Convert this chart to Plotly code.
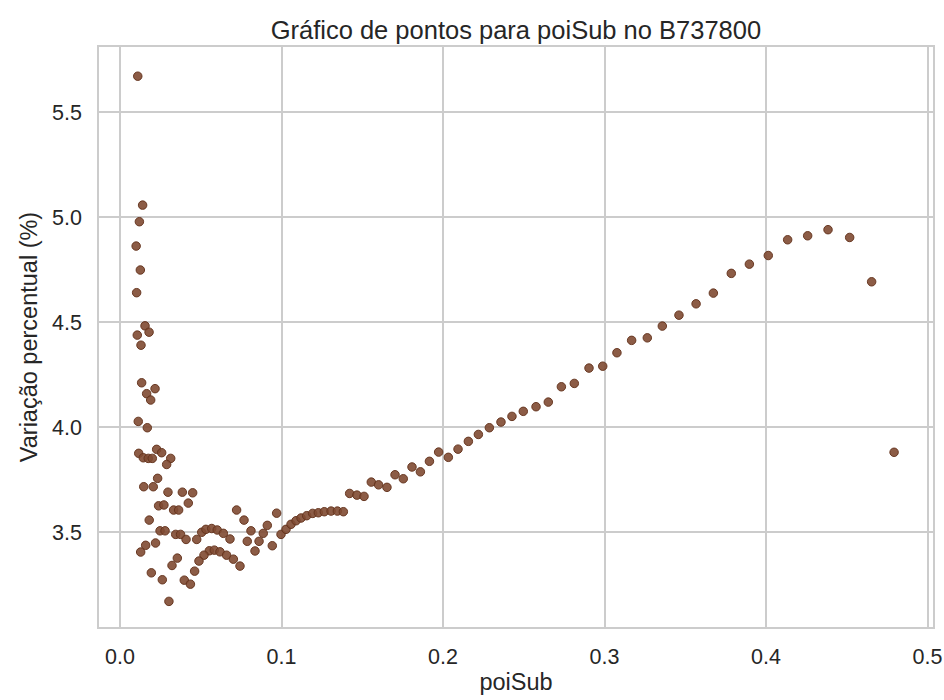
import plotly.graph_objects as go

# poiSub values and percentage variation for the B737800
poi_sub = [
    0.011, 0.014, 0.012, 0.010, 0.0126, 0.0103, 0.0155, 0.018, 0.0107, 0.013,
    0.0134, 0.0217, 0.0165, 0.019, 0.0113, 0.0169, 0.0227, 0.0258, 0.0116, 0.0144,
    0.0175, 0.020, 0.0314, 0.0289, 0.0233, 0.0147, 0.0206, 0.0297, 0.0386, 0.045,
    0.0423, 0.0239, 0.0272, 0.0332, 0.0363, 0.0722, 0.0181, 0.0768, 0.097, 0.0912,
    0.0248, 0.0279, 0.0811, 0.0345, 0.0375, 0.0887, 0.0409, 0.0475, 0.0506, 0.0532,
    0.0568, 0.0602, 0.064, 0.0681, 0.0788, 0.0861, 0.0997, 0.0836, 0.0943, 0.022,
    0.0159, 0.0128, 0.0553, 0.0584, 0.0619, 0.066, 0.0702, 0.0743, 0.052, 0.0489,
    0.0462, 0.0355, 0.0322, 0.0194, 0.0262, 0.0398, 0.0436, 0.0303,
    0.1028, 0.1059, 0.109, 0.1121, 0.1156, 0.1193, 0.1228, 0.1265, 0.1307, 0.1346,
    0.1383, 0.1422, 0.1467, 0.1511, 0.1556, 0.1601, 0.1653, 0.1703, 0.1754, 0.1808,
    0.186, 0.1916, 0.1973, 0.2033, 0.2093, 0.2157, 0.2219, 0.2287, 0.2359, 0.2427,
    0.2497, 0.2576, 0.2652, 0.2733, 0.2813, 0.2904, 0.2989, 0.3077, 0.3168, 0.3265,
    0.3358, 0.3461, 0.3567, 0.3674, 0.3785, 0.3897, 0.4014, 0.4134, 0.4258, 0.4384,
    0.4518, 0.4654, 0.4793,
]
variacao = [
    5.671, 5.057, 4.978, 4.862, 4.748, 4.640, 4.482, 4.452, 4.438, 4.390,
    4.211, 4.183, 4.159, 4.129, 4.027, 3.997, 3.894, 3.878, 3.875, 3.854,
    3.851, 3.851, 3.851, 3.822, 3.756, 3.716, 3.716, 3.690, 3.690, 3.687,
    3.638, 3.625, 3.629, 3.605, 3.605, 3.605, 3.557, 3.557, 3.590, 3.532,
    3.506, 3.506, 3.506, 3.489, 3.489, 3.494, 3.465, 3.465, 3.499, 3.513,
    3.517, 3.510, 3.494, 3.467, 3.456, 3.456, 3.489, 3.410, 3.435, 3.448,
    3.437, 3.405, 3.411, 3.414, 3.406, 3.390, 3.371, 3.338, 3.390, 3.362,
    3.314, 3.376, 3.341, 3.306, 3.273, 3.271, 3.252, 3.170,
    3.513, 3.537, 3.554, 3.567, 3.578, 3.589, 3.592, 3.597, 3.600, 3.600,
    3.597, 3.684, 3.676, 3.670, 3.738, 3.725, 3.713, 3.773, 3.754, 3.810,
    3.787, 3.837, 3.881, 3.856, 3.895, 3.932, 3.965, 3.997, 4.024, 4.051,
    4.075, 4.097, 4.119, 4.192, 4.208, 4.281, 4.290, 4.354, 4.413, 4.425,
    4.481, 4.533, 4.587, 4.638, 4.732, 4.776, 4.817, 4.892, 4.911, 4.940,
    4.903, 4.692, 3.880,
]

x_ticks = [0.0, 0.1, 0.2, 0.3, 0.4, 0.5]
x_tick_text = ["0.0", "0.1", "0.2", "0.3", "0.4", "0.5"]
y_ticks = [3.5, 4.0, 4.5, 5.0, 5.5]
y_tick_text = ["3.5", "4.0", "4.5", "5.0", "5.5"]

text_color = "#262626"
grid_color = "#cccccc"
font_family = "Liberation Sans, Arial, sans-serif"

fig = go.Figure(
    go.Scatter(
        x=poi_sub,
        y=variacao,
        mode="markers",
        marker=dict(
            size=8.5,
            color="rgba(128,74,50,0.9)",
            line=dict(color="rgba(100,52,30,0.95)", width=1),
        ),
        showlegend=False,
    )
)

axis_common = dict(
    showgrid=True,
    gridcolor=grid_color,
    gridwidth=1.5,
    showline=True,
    linecolor=grid_color,
    linewidth=1.5,
    mirror=True,
    zeroline=False,
    ticks="outside",
    tickcolor="rgba(0,0,0,0)",
    automargin=False,
    tickfont=dict(size=21.5, color=text_color, family=font_family),
)

fig.update_xaxes(
    range=[-0.013, 0.5034],
    tickvals=x_ticks,
    ticktext=x_tick_text,
    ticklen=9,
    title=dict(text="poiSub", font=dict(size=23.5, color=text_color, family=font_family), standoff=6),
    **axis_common,
)
fig.update_yaxes(
    range=[3.048, 5.81],
    tickvals=y_ticks,
    ticktext=y_tick_text,
    ticklen=11,
    title=dict(text="Variação percentual (%)", font=dict(size=23.5, color=text_color, family=font_family), standoff=8),
    **axis_common,
)

fig.update_layout(
    width=944,
    height=700,
    margin=dict(l=99, r=11, t=47, b=73),
    paper_bgcolor="white",
    plot_bgcolor="white",
    font=dict(family=font_family, color=text_color),
    title=dict(
        text="Gráfico de pontos para poiSub no B737800",
        x=0.5465,
        xanchor="center",
        y=0.957,
        yanchor="middle",
        font=dict(size=25.5, color=text_color, family=font_family),
    ),
)

fig.write_html("out.html")
